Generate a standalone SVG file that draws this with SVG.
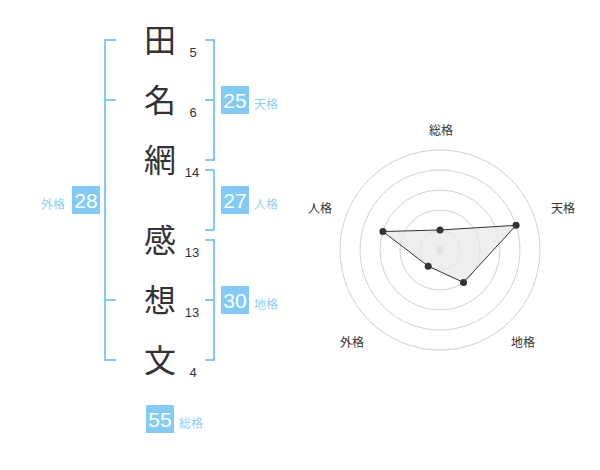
<svg xmlns="http://www.w3.org/2000/svg" width="600" height="470" viewBox="0 0 600 470">
<style>
.ch{font-family:"Noto Sans CJK JP","Noto Sans CJK SC",sans-serif;font-size:32px;fill:#333;text-anchor:middle}
.sn{font-family:"Liberation Sans","Noto Sans CJK JP",sans-serif;font-size:13px;fill:#333;text-anchor:middle}
.br{fill:none;stroke:#82cbf7;stroke-width:2}
.bx{fill:#82cbf7}
.bn{font-family:"Liberation Sans","Noto Sans CJK JP",sans-serif;font-size:21px;fill:#fff;text-anchor:middle}
.bl{font-family:"Noto Sans CJK JP",sans-serif;font-size:12px;fill:#8fcff5}
.rl{font-family:"Noto Sans CJK JP",sans-serif;font-size:12px;fill:#333;text-anchor:middle}
.ring{fill:none;stroke:#d0d0d0;stroke-width:1}
.pt{fill:#333}
</style>
<rect width="600" height="470" fill="#fff"/>
<g id="chars">
<g id="c1"><text class="ch" x="160" y="52">田</text><text class="sn" x="193" y="57">5</text></g>
<g id="c2"><text class="ch" x="160" y="112">名</text><text class="sn" x="193" y="117">6</text></g>
<g id="c3"><text class="ch" x="160" y="172">網</text><text class="sn" x="192" y="177">14</text></g>
<g id="c4"><text class="ch" x="160" y="252">感</text><text class="sn" x="192" y="257">13</text></g>
<g id="c5"><text class="ch" x="160" y="312">想</text><text class="sn" x="192" y="317">13</text></g>
<g id="c6"><text class="ch" x="160" y="372">文</text><text class="sn" x="193" y="377">4</text></g>
</g>
<g id="connectors">
<path class="br" d="M116,40H105V360H116M105,100H116M105,300H116"/>
<path class="br" d="M205,40H214V160H205M214,100H205"/>
<path class="br" d="M205,170H214V230H205"/>
<path class="br" d="M205,240H214V360H205M214,300H205"/>
</g>
<g id="tenkaku"><rect class="bx" x="221" y="86" width="28" height="28"/><text class="bn" x="235" y="107.5">25</text><text class="bl" x="254" y="108.5">天格</text></g>
<g id="jinkaku"><rect class="bx" x="221" y="186" width="28" height="28"/><text class="bn" x="235" y="207.5">27</text><text class="bl" x="254" y="208.5">人格</text></g>
<g id="chikaku"><rect class="bx" x="221" y="286" width="28" height="28"/><text class="bn" x="235" y="307.5">30</text><text class="bl" x="254" y="308.5">地格</text></g>
<g id="gaikaku"><rect class="bx" x="72" y="186" width="28" height="28"/><text class="bn" x="86" y="207.5">28</text><text class="bl" x="41" y="208.5">外格</text></g>
<g id="soukaku"><rect class="bx" x="146" y="405" width="28" height="28"/><text class="bn" x="160" y="426.5">55</text><text class="bl" x="179" y="427.5">総格</text></g>
<g id="radar">
<circle class="ring" cx="440" cy="250" r="20"/>
<circle class="ring" cx="440" cy="250" r="40"/>
<circle class="ring" cx="440" cy="250" r="60"/>
<circle class="ring" cx="440" cy="250" r="80"/>
<circle class="ring" cx="440" cy="250" r="100"/>
<circle cx="440" cy="250" r="3.5" fill="#ccc"/>
<polygon points="440,230 516.1,225.3 463.5,282.4 428.2,266.2 382.9,231.5" fill="#e8e8e8" fill-opacity="0.75" stroke="#333" stroke-width="1"/>
<circle class="pt" cx="440" cy="230" r="3.5"/>
<circle class="pt" cx="516.1" cy="225.3" r="3.5"/>
<circle class="pt" cx="463.5" cy="282.4" r="3.5"/>
<circle class="pt" cx="428.2" cy="266.2" r="3.5"/>
<circle class="pt" cx="382.9" cy="231.5" r="3.5"/>
<text class="rl" x="441" y="135">総格</text>
<text class="rl" x="563" y="213">天格</text>
<text class="rl" x="320" y="213">人格</text>
<text class="rl" x="352" y="347">外格</text>
<text class="rl" x="523" y="347">地格</text>
</g>
</svg>
